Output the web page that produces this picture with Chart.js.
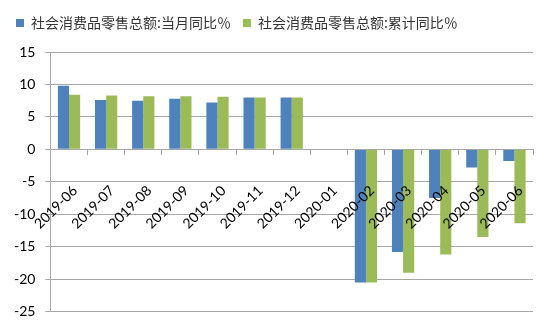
<!DOCTYPE html>
<html>
<head>
<meta charset="utf-8">
<script src="https://cdn.jsdelivr.net/npm/chart.js@4/dist/chart.umd.min.js"></script>
<style>
  html, body { margin: 0; padding: 0; background: #fff; }
  #wrap { width: 550px; height: 330px; }
</style>
</head>
<body>
<div id="wrap"><canvas id="c" width="550" height="330"></canvas></div>
<script>
// Monthly retail sales of consumer goods, year-on-year growth (%)
const months = ['2019-06', '2019-07', '2019-08', '2019-09', '2019-10', '2019-11', '2019-12',
                '2020-01', '2020-02', '2020-03', '2020-04', '2020-05', '2020-06'];
const monthlyYoY = [9.8, 7.6, 7.5, 7.8, 7.2, 8.0, 8.0, null, -20.5, -15.8, -7.5, -2.8, -1.8];
const cumulativeYoY = [8.4, 8.3, 8.2, 8.2, 8.1, 8.0, 8.0, null, -20.5, -19.0, -16.2, -13.5, -11.4];
const seriesNames = ['社会消费品零售总额:当月同比％', '社会消费品零售总额:累计同比％'];
const yTicks = [15, 10, 5, 0, -5, -10, -15, -20, -25];

const cjkFont = '"Noto Sans CJK SC", sans-serif';
const numFont = 'Lato, "Liberation Sans", sans-serif';
const gridColor = '#a6a6a6';

// Leave a little more room between the legend and the plot
const legendGap = {
  id: 'legendGap',
  beforeInit(chart) {
    const fit = chart.legend.fit;
    chart.legend.fit = function () {
      fit.call(this);
      this.height += 12;
    };
  }
};

new Chart(document.getElementById('c'), {
  type: 'bar',
  data: {
    labels: months,
    datasets: [
      { label: seriesNames[0], data: monthlyYoY, backgroundColor: '#4f81bd',
        barPercentage: 1.0, categoryPercentage: 0.6 },
      { label: seriesNames[1], data: cumulativeYoY, backgroundColor: '#9bbb59',
        barPercentage: 1.0, categoryPercentage: 0.6 }
    ]
  },
  plugins: [legendGap],
  options: {
    responsive: false,
    animation: false,
    layout: { padding: { left: 4, right: 17, top: 4, bottom: 17 } },
    plugins: {
      legend: {
        position: 'top',
        align: 'start',
        labels: {
          boxWidth: 8, boxHeight: 8, padding: 12,
          color: '#333', font: { family: cjkFont, size: 14 }
        }
      },
      tooltip: { enabled: false }
    },
    scales: {
      x: {
        position: { y: 0 },
        offset: true,
        // the rotated labels sit inside the plot, so they need no side margin
        afterFit: (s) => { s.paddingLeft = 0; s.paddingRight = 0; },
        grid: { display: true, drawOnChartArea: false, drawTicks: true, tickLength: 5,
                offset: true, color: gridColor, z: 1 },
        border: { display: true, color: gridColor, z: 1 },
        ticks: { maxRotation: 45, minRotation: 45, padding: 28, labelOffset: 6, z: 1,
                 color: '#000', font: { family: numFont, size: 14 } }
      },
      y: {
        min: Math.min(...yTicks),
        max: Math.max(...yTicks),
        afterBuildTicks: (axis) => { axis.ticks = yTicks.map(v => ({ value: v })); },
        grid: { color: gridColor, tickLength: 5 },
        border: { display: true, color: gridColor },
        ticks: { padding: 10, color: '#000', font: { family: numFont, size: 14 } }
      }
    }
  }
});
</script>
</body>
</html>
